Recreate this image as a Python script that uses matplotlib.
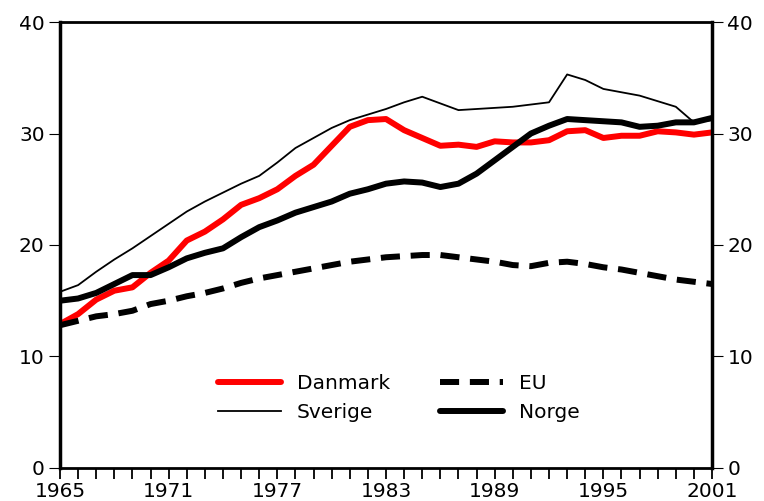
import matplotlib.pyplot as plt

plt.rcParams['font.family'] = ['DejaVu Sans']

years = list(range(1965, 2002))

danmark = [12.9, 13.8, 15.1, 15.9, 16.2, 17.5, 18.6, 20.4, 21.2, 22.3, 23.6, 24.2, 25.0, 26.2,
           27.2, 28.9, 30.6, 31.2, 31.3, 30.3, 29.6, 28.9, 29.0, 28.8, 29.3, 29.2, 29.2,
           29.4, 30.2, 30.3, 29.6, 29.8, 29.8, 30.2, 30.1, 29.9, 30.1]
sverige = [15.8, 16.4, 17.6, 18.7, 19.7, 20.8, 21.9, 23.0, 23.9, 24.7, 25.5, 26.2, 27.4, 28.7,
           29.6, 30.5, 31.2, 31.7, 32.2, 32.8, 33.3, 32.7, 32.1, 32.2, 32.3, 32.4, 32.6,
           32.8, 35.3, 34.8, 34.0, 33.7, 33.4, 32.9, 32.4, 31.0, 31.2]
norge = [15.0, 15.2, 15.7, 16.5, 17.3, 17.3, 18.0, 18.8, 19.3, 19.7, 20.7, 21.6, 22.2, 22.9,
         23.4, 23.9, 24.6, 25.0, 25.5, 25.7, 25.6, 25.2, 25.5, 26.4, 27.6, 28.8, 30.0,
         30.7, 31.3, 31.2, 31.1, 31.0, 30.6, 30.7, 31.0, 31.0, 31.4]
eu = [12.8, 13.2, 13.6, 13.8, 14.1, 14.7, 15.0, 15.4, 15.7, 16.1, 16.6, 17.0, 17.3, 17.6,
      17.9, 18.2, 18.5, 18.7, 18.9, 19.0, 19.1, 19.1, 18.9, 18.7, 18.5, 18.2, 18.1,
      18.4, 18.5, 18.3, 18.0, 17.8, 17.5, 17.2, 16.9, 16.7, 16.5]

year_labels = [1965, 1971, 1977, 1983, 1989, 1995, 2001]
y_ticks = [0, 10, 20, 30, 40]

fig = plt.figure(figsize=(7.64, 5.01), dpi=100)
ax = fig.add_axes([0.0785, 0.066, 0.8535, 0.89])

l_dk, = ax.plot(years, danmark, color='#ff0000', lw=4.3, solid_capstyle='round', label='Danmark')
l_eu, = ax.plot(years, eu, color='black', lw=4.3, dashes=(3.2, 1.8), label='EU')
l_se, = ax.plot(years, sverige, color='black', lw=1.3, label='Sverige')
l_no, = ax.plot(years, norge, color='black', lw=4.3, solid_capstyle='round', label='Norge')

ax.set_xlim(1965, 2001)
ax.set_ylim(0, 40)
ax.set_xticks(year_labels)
ax.set_xticks(years, minor=True)
ax.set_yticks(y_ticks)

for side in ['left', 'right']:
    ax.spines[side].set_linewidth(2.5)
for side in ['top', 'bottom']:
    ax.spines[side].set_linewidth(2.0)

ax.tick_params(axis='x', which='both', direction='out', length=8, width=1.3, labelsize=14.5, pad=2)
ax.tick_params(axis='y', direction='out', length=8, width=0.8, labelsize=14.5, pad=3,
               right=True, labelright=True)

# legend filled row by row: Danmark, EU / Sverige, Norge
handles = [l_dk, l_se, l_eu, l_no]
ax.legend(handles, [h.get_label() for h in handles], ncol=2, frameon=False, loc='center',
          bbox_to_anchor=(0.52, 0.156), fontsize=14.5, handlelength=3.1,
          columnspacing=2.5, labelspacing=0.5, handletextpad=0.8)

fig.savefig('out.png', dpi=100)
